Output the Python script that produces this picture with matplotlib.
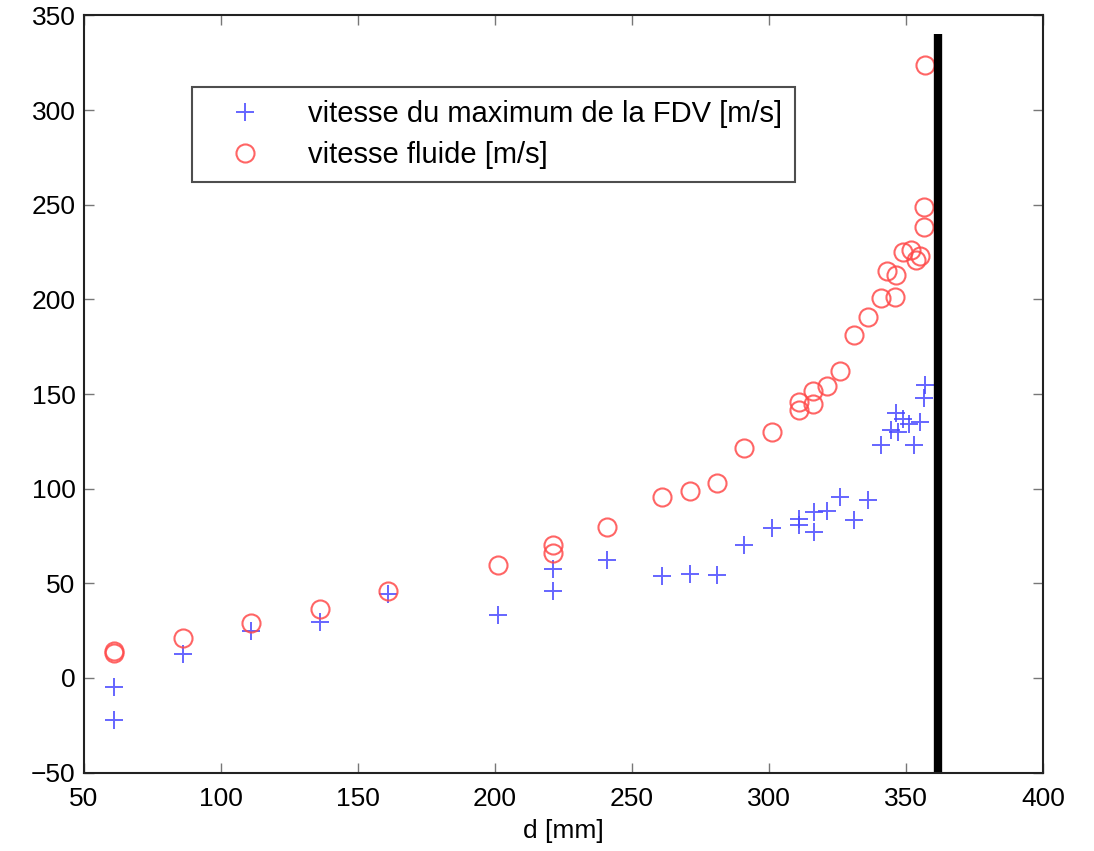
import matplotlib.pyplot as plt

plt.rcParams['font.family'] = ['Liberation Sans', 'DejaVu Sans']

# vitesse du maximum de la FDV (croix bleues)
d_fdv = [61, 61, 86, 111, 136, 161, 201, 221, 221, 241, 261, 271, 281, 291,
         301, 311, 311, 316.5, 316.5, 321, 326, 331, 336,
         341, 344.5, 346.5, 347, 349, 351, 353, 355, 356.5, 357]
v_fdv = [-5, -22, 12.5, 25, 29.5, 44.5, 33.5, 57.5, 46, 62.5, 54, 55, 54.5, 70.5,
         79, 81, 84, 87.5, 77, 88, 95.5, 83.5, 94,
         123, 131, 140, 130, 137, 134, 123, 135, 148, 155]

# vitesse fluide (cercles rouges)
d_fluide = [61, 61, 86, 111, 136, 161, 201, 221, 221, 241, 261, 271, 281, 291,
            301, 311, 311, 316, 316, 321, 326, 331, 336, 341, 346,
            343, 346.5, 349, 352, 353.5, 355, 356.5, 356.5, 357]
v_fluide = [13, 14, 21, 29, 36.5, 46, 59.5, 70, 66, 80, 95.5, 99, 103, 121.5,
            130, 141.5, 146, 145, 151.5, 154, 162, 181, 190.5, 201, 201.5,
            215, 213, 225, 226, 221, 223, 238, 249, 324]

d_limite = 361.5
v_limite_max = 340

fig = plt.figure(figsize=(10.94, 8.51), dpi=100)
ax = fig.add_axes([0.0768, 0.0921, 0.8766, 0.8897])

ax.plot(d_fdv, v_fdv, linestyle='none', marker='+', markersize=13,
        markeredgewidth=1.4, color='#4a4aff', alpha=0.85,
        label='vitesse du maximum de la FDV [m/s]')
ax.plot(d_fluide, v_fluide, linestyle='none', marker='o', markersize=13,
        markerfacecolor='none', markeredgewidth=1.5, markeredgecolor='#ff4a4a',
        alpha=0.85, label='vitesse fluide [m/s]')
ax.plot([d_limite, d_limite], [-50, v_limite_max], color='black', linewidth=6,
        solid_capstyle='butt')

ax.set_xlim(50, 400)
ax.set_ylim(-50, 350)
ax.set_xticks(range(50, 401, 50))
ax.set_yticks(range(-50, 351, 50))
ax.tick_params(direction='in', top=True, right=True, length=7, width=1,
               labelsize=19, color='#777777')
ax.tick_params(axis='y', pad=6)
ax.tick_params(axis='x', pad=10)
for s in ax.spines.values():
    s.set_linewidth(1.5)
    s.set_color('#222222')
ax.set_xlabel('d [mm]', fontsize=19, labelpad=6)

leg = ax.legend(loc='upper left', bbox_to_anchor=(0.113, 0.906), fontsize=21,
                frameon=True, fancybox=False, edgecolor='#222222',
                borderaxespad=0, borderpad=0.45, handlelength=2.7,
                handletextpad=0.8, labelspacing=0.45)
leg.get_frame().set_linewidth(1.5)

fig.savefig('out.png', dpi=100)
